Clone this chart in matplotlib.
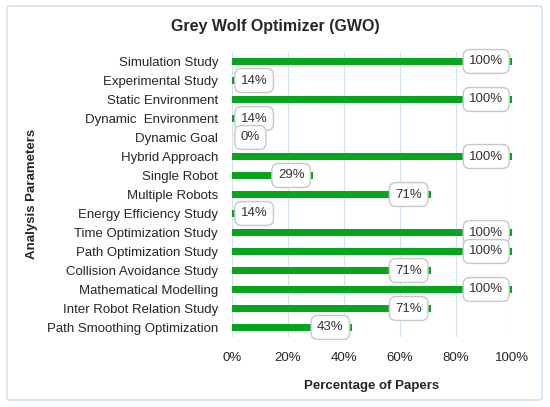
import matplotlib
matplotlib.use("Agg")
import matplotlib.pyplot as plt
from matplotlib.patches import FancyBboxPatch
from matplotlib.ticker import FuncFormatter

categories = [
    "Simulation Study", "Experimental Study", "Static Environment",
    "Dynamic  Environment", "Dynamic Goal", "Hybrid Approach",
    "Single Robot", "Multiple Robots", "Energy Efficiency Study",
    "Time Optimization Study", "Path Optimization Study",
    "Collision Avoidance Study", "Mathematical Modelling",
    "Inter Robot Relation Study", "Path Smoothing Optimization",
]
values = [100, 14, 100, 14, 0, 100, 29, 71, 14, 100, 100, 71, 100, 71, 43]
xticks = [0, 20, 40, 60, 80, 100]

plt.rcParams['font.family'] = ['Liberation Sans', 'DejaVu Sans']

fig = plt.figure(figsize=(5.5, 4.07), dpi=100)
W, H = 550, 407
ax = fig.add_axes([232 / W, 1 - 337 / H, (512 - 232) / W, (337 - 52) / H])

green = '#06a51e'
ypos = list(range(len(categories)))
ax.barh(ypos, values, height=0.42, color=green, zorder=2)
ax.set_ylim(len(categories) - 0.5, -0.5)
ax.set_xlim(0, 100)
ax.set_yticks(ypos)
ax.set_yticklabels(categories, fontsize=9.5, color='#262626')
ax.set_xticks(xticks)
ax.xaxis.set_major_formatter(FuncFormatter(lambda v, p: f"{v:.0f}%"))
ax.tick_params(axis='x', length=0, pad=11, labelsize=9.5, labelcolor='#262626')
ax.tick_params(axis='y', length=0, pad=10)
for s in ax.spines.values():
    s.set_visible(False)
ax.grid(axis='x', color='#d3e2f1', linewidth=0.9, zorder=0)
ax.set_axisbelow(True)

box = dict(boxstyle='round,pad=0.45,rounding_size=0.5', facecolor='white',
           edgecolor='#c8c8c8', linewidth=1.0)
for y, v in zip(ypos, values):
    lab = f"{v}%"
    if v < 16:
        ax.annotate(lab, xy=(0, y), xytext=(6.3, 0), textcoords='offset points',
                    ha='left', va='center', fontsize=9.5, color='#333333',
                    bbox=box, zorder=3)
    else:
        ax.annotate(lab, xy=(v, y), xytext=(-6.3, 0), textcoords='offset points',
                    ha='right', va='center', fontsize=9.5, color='#333333',
                    bbox=box, zorder=3)

ax.set_xlabel("Percentage of Papers", fontsize=9.5, fontweight='bold',
              color='#262626', labelpad=11)
fig.text(32 / W, 1 - 194 / H, "Analysis Parameters", rotation=90,
         ha='center', va='center', fontsize=9.5, fontweight='bold', color='#262626')
fig.text(0.5, 1 - 27 / H, "Grey Wolf Optimizer (GWO)", ha='center', va='center',
         fontsize=11.5, fontweight='bold', color='#262626')

frame = FancyBboxPatch((7 / W, 1 - 400 / H), (542 - 7) / W, (400 - 6) / H,
                       boxstyle='round,pad=0,rounding_size=0.006',
                       transform=fig.transFigure, facecolor='none',
                       edgecolor='#c9dcef', linewidth=1.0)
fig.patches.append(frame)

fig.savefig("out.png", dpi=100)
